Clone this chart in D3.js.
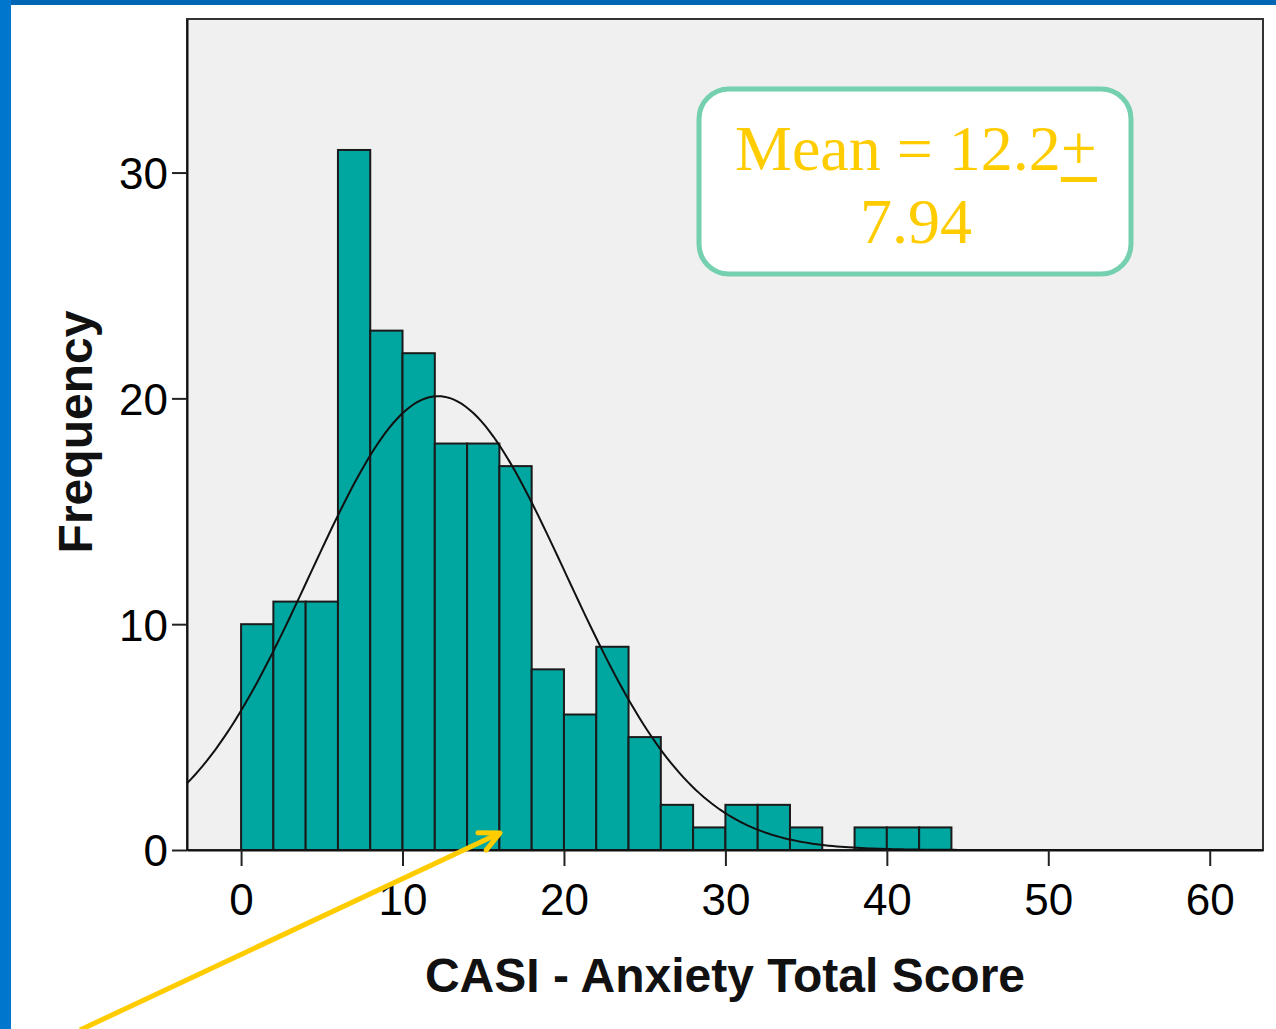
<!DOCTYPE html>
<meta charset="utf-8">
<style>
body { margin: 0; background: #fff; }
.tick text { font-family: "Liberation Sans", Arial, sans-serif; font-size: 44px; fill: #000; }
.axis-title { font-family: "Liberation Sans", Arial, sans-serif; font-size: 48px; font-weight: bold; fill: #111; }
.stat { font-family: "Liberation Serif", "Times New Roman", serif; font-size: 64px; fill: #ffcc00; }
</style>
<svg width="1276" height="1029"></svg>
<script src="https://d3js.org/d3.v7.min.js"></script>
<script>

// histogram bins (2 points wide) and counts
var binStarts = [0, 2, 4, 6, 8, 10, 12, 14, 16, 18, 20, 22, 24, 26, 28, 30, 32, 34, 36, 38, 40, 42];
var counts    = [10, 11, 11, 31, 23, 22, 18, 18, 17, 8, 6, 9, 5, 2, 1, 2, 2, 1, 0, 1, 1, 1];
var binWidth = 2;
var xTicks = [0, 10, 20, 30, 40, 50, 60];
var yTicks = [0, 10, 20, 30];
var mean = 12.2, sd = 7.94;

var svg = d3.select("svg"),
    width = +svg.attr("width"),
    height = +svg.attr("height");

// slide frame
svg.append("rect").attr("x", 0).attr("y", 0).attr("width", width).attr("height", 5).attr("fill", "#0066b3");
svg.append("rect").attr("x", 0).attr("y", 0).attr("width", 11).attr("height", height).attr("fill", "#0077cc");

var plot = { left: 187, top: 19, right: 1263, bottom: 850 };

var x = d3.scaleLinear().domain([-3.35, 63.3]).range([plot.left, plot.right]);
var y = d3.scaleLinear().domain([0, 36.8]).range([plot.bottom, plot.top]);

svg.append("rect")
    .attr("x", plot.left).attr("y", plot.top)
    .attr("width", plot.right - plot.left).attr("height", plot.bottom - plot.top)
    .attr("fill", "#f0f0f0").attr("stroke", "#333").attr("stroke-width", 2);

var n = d3.sum(counts);
var bins = binStarts.map(function(s, i) { return { x0: s, x1: s + binWidth, count: counts[i] }; });

svg.append("g").selectAll("rect")
    .data(bins.filter(function(d) { return d.count > 0; })).enter()
    .append("rect")
      .attr("x", function(d) { return x(d.x0); })
      .attr("y", function(d) { return y(d.count); })
      .attr("width", function(d) { return x(d.x1) - x(d.x0); })
      .attr("height", function(d) { return y(0) - y(d.count); })
      .attr("fill", "#00a6a0")
      .attr("stroke", "#1a1a1a")
      .attr("stroke-width", 2);

// fitted normal curve
var curveX = d3.range(x.domain()[0], x.domain()[1], 0.25);
var line = d3.line()
    .x(function(v) { return x(v); })
    .y(function(v) {
      var z = (v - mean) / sd;
      return y(n * binWidth * Math.exp(-0.5 * z * z) / (sd * Math.sqrt(2 * Math.PI)));
    });
svg.append("path").datum(curveX)
    .attr("d", line).attr("fill", "none").attr("stroke", "#111").attr("stroke-width", 2);

// axes
var xAxis = svg.append("g").attr("transform", "translate(0," + plot.bottom + ")")
    .call(d3.axisBottom(x).tickValues(xTicks).tickSizeInner(16).tickSizeOuter(0).tickPadding(17).tickFormat(d3.format("d")));
var yAxis = svg.append("g").attr("transform", "translate(" + plot.left + ",0)")
    .call(d3.axisLeft(y).tickValues(yTicks).tickSizeInner(15).tickSizeOuter(0).tickPadding(4).tickFormat(d3.format("d")));
[xAxis, yAxis].forEach(function(a) {
  a.select(".domain").attr("stroke", "#111").attr("stroke-width", 2);
  a.selectAll(".tick line").attr("stroke", "#222").attr("stroke-width", 2);
});
xAxis.selectAll(".tick text").attr("dy", "0.72em");
yAxis.selectAll(".tick text").attr("dy", "0.36em");

svg.append("text").attr("class", "axis-title")
    .attr("x", 725).attr("y", 992).attr("text-anchor", "middle")
    .text("CASI - Anxiety Total Score");
svg.append("text").attr("class", "axis-title")
    .attr("transform", "translate(92,432) rotate(-90)").attr("text-anchor", "middle")
    .text("Frequency");

// stats box
svg.append("rect")
    .attr("x", 699).attr("y", 89).attr("width", 432).attr("height", 185)
    .attr("rx", 30).attr("ry", 30)
    .attr("fill", "#fff").attr("stroke", "#74d0ae").attr("stroke-width", 5);

var line1 = svg.append("text").attr("class", "stat")
    .attr("x", 916).attr("y", 170).attr("text-anchor", "middle");
line1.append("tspan").text("Mean = " + mean + "");
line1.append("tspan").text("+");
var node1 = line1.node(), last = node1.getNumberOfChars() - 1;
var p0 = node1.getStartPositionOfChar(last), p1 = node1.getEndPositionOfChar(last);
svg.append("rect").attr("x", p0.x).attr("y", 177).attr("width", p1.x - p0.x).attr("height", 5).attr("fill", "#ffcc00");

svg.append("text").attr("class", "stat")
    .attr("x", 916).attr("y", 243).attr("text-anchor", "middle")
    .text(sd.toFixed(2));

// yellow pointer arrow
var ax0 = 80, ay0 = 1030, ax1 = 500, ay1 = 833;
svg.append("line")
    .attr("x1", ax0).attr("y1", ay0).attr("x2", ax1).attr("y2", ay1)
    .attr("stroke", "#ffcc00").attr("stroke-width", 5);
var ang = Math.atan2(ay1 - ay0, ax1 - ax0), hl = 22;
svg.append("path")
    .attr("d", "M" + (ax1 - hl * Math.cos(ang - 0.45)) + "," + (ay1 - hl * Math.sin(ang - 0.45)) +
               "L" + ax1 + "," + ay1 +
               "L" + (ax1 - hl * Math.cos(ang + 0.45)) + "," + (ay1 - hl * Math.sin(ang + 0.45)))
    .attr("fill", "none").attr("stroke", "#ffcc00").attr("stroke-width", 5)
    .attr("stroke-linecap", "round").attr("stroke-linejoin", "round");
</script>
